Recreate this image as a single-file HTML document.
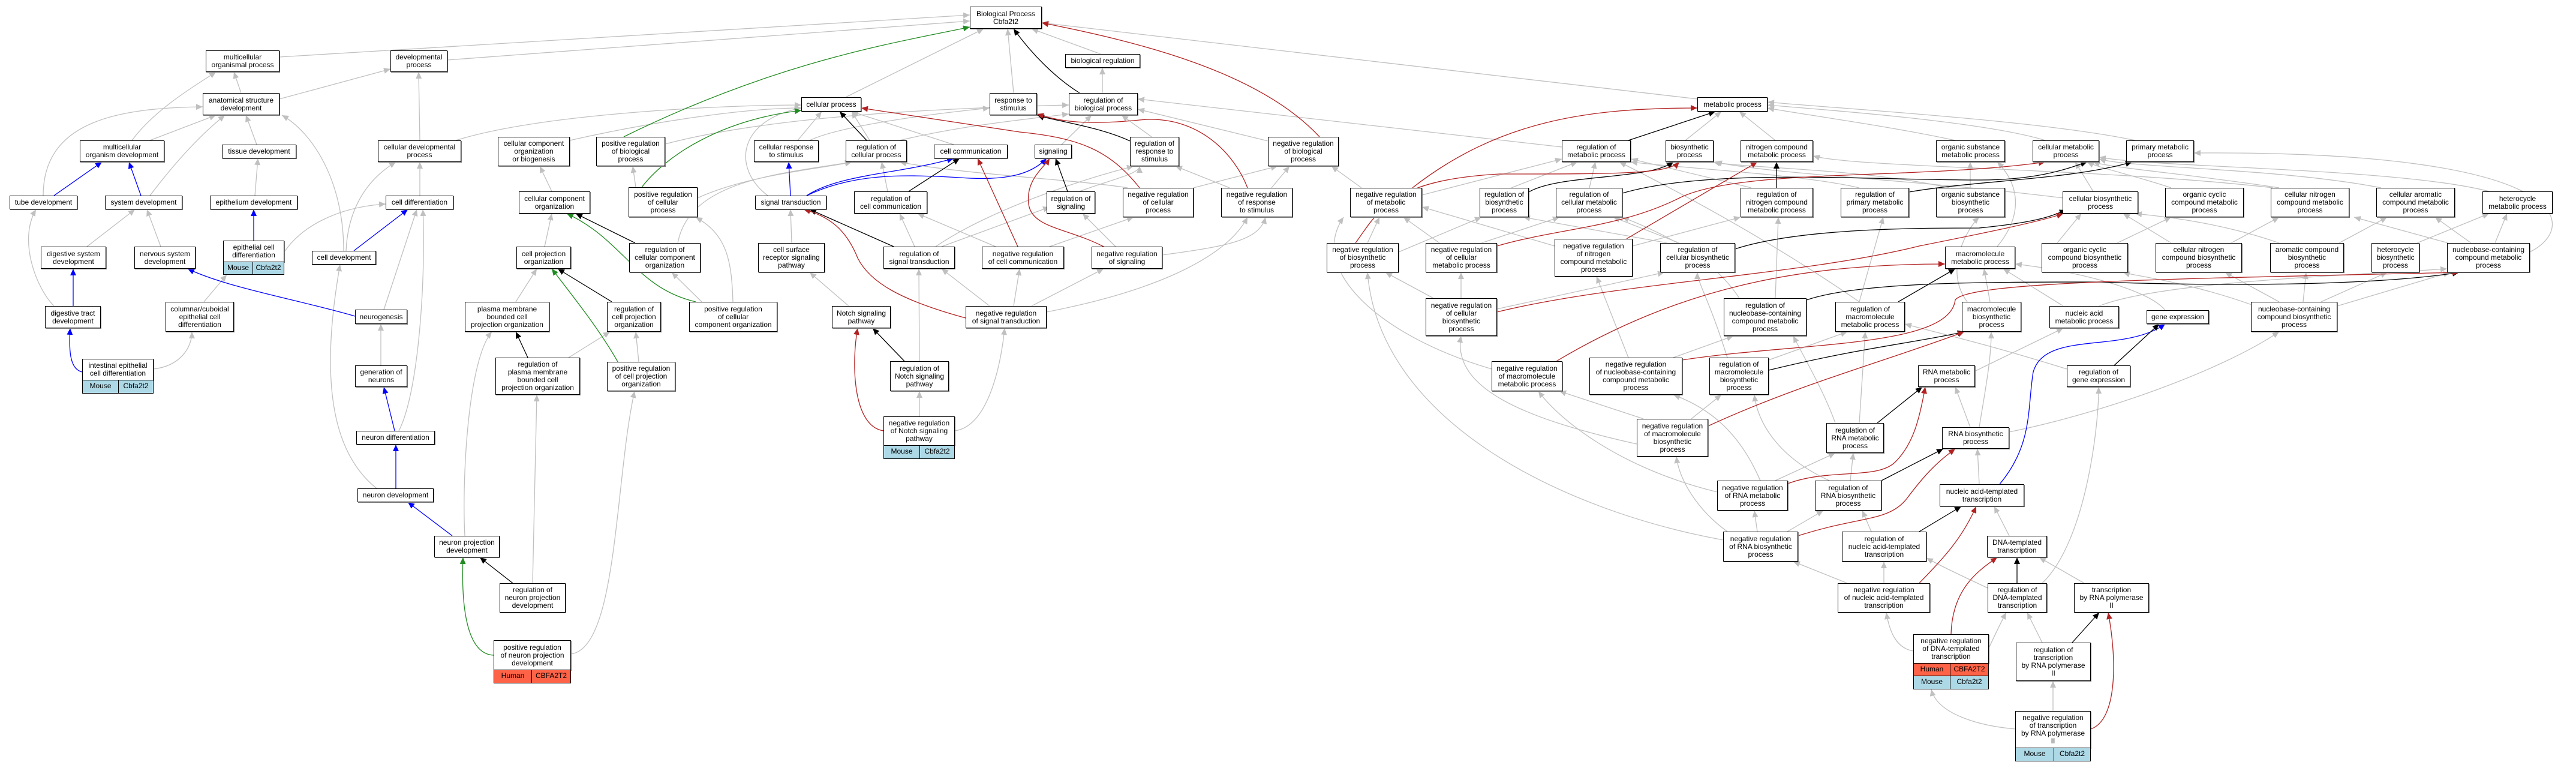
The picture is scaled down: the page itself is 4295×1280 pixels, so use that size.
<!DOCTYPE html>
<html><head><meta charset="utf-8"><style>
html,body{margin:0;padding:0;background:#fff;}
#w{position:relative;width:4295px;height:1280px;overflow:hidden;background:#fff;}
svg{position:absolute;left:0;top:0;}
.n{position:absolute;box-sizing:border-box;border:1.5px solid #000;background:#fff;display:flex;align-items:center;justify-content:center;text-align:center;font:12px/13px "Liberation Sans",Arial,sans-serif;color:#000;box-shadow:1px 1px 0 #777;}
.r{position:absolute;box-sizing:border-box;border:1.5px solid #000;border-top:none;display:flex;font:12px/19px "Liberation Sans",Arial,sans-serif;}
.r span{display:block;text-align:center;box-sizing:border-box;}
.r span:first-child{border-right:1px solid #000;}
.m{background:#add8e6;}.h{background:#ff6347;}
</style></head><body><div id="w">
<svg width="4295" height="1280" viewBox="0 0 4295 1280" fill="none" stroke-width="1.3">
<defs>
<marker id="ag" markerUnits="userSpaceOnUse" markerWidth="12" markerHeight="10" refX="11" refY="5" orient="auto"><path d="M0,0L11,5L0,10z" fill="#c0c0c0"/></marker>
<marker id="ak" markerUnits="userSpaceOnUse" markerWidth="12" markerHeight="10" refX="11" refY="5" orient="auto"><path d="M0,0L11,5L0,10z" fill="#000"/></marker>
<marker id="ar" markerUnits="userSpaceOnUse" markerWidth="12" markerHeight="10" refX="11" refY="5" orient="auto"><path d="M0,0L11,5L0,10z" fill="#b22222"/></marker>
<marker id="ab" markerUnits="userSpaceOnUse" markerWidth="12" markerHeight="10" refX="11" refY="5" orient="auto"><path d="M0,0L11,5L0,10z" fill="#0000ff"/></marker>
<marker id="an" markerUnits="userSpaceOnUse" markerWidth="12" markerHeight="10" refX="11" refY="5" orient="auto"><path d="M0,0L11,5L0,10z" fill="#228b22"/></marker>
</defs>
<g stroke="#c0c0c0" marker-end="url(#ag)">
<path d="M466 95L1617 25"/><path d="M746 100L1617 35"/><path d="M402 155L390 120"/><path d="M466 165L651 115"/>
<path d="M220 234C260 180 330 140 360 120"/><path d="M250 234L360 192"/><path d="M428 241L410 192"/>
<path d="M72 326C72 200 200 180 338 178"/><path d="M250 326C300 260 340 220 375 192"/><path d="M573 418C573 300 520 220 470 192"/>
<path d="M700 234L698 120"/><path d="M760 234C900 190 1200 175 1336 175"/><path d="M950 234C1100 200 1250 180 1336 180"/>
<path d="M700 326L700 270"/><path d="M920 319L900 277"/><path d="M425 326L430 264"/><path d="M145 411L225 349"/><path d="M268 411L245 349"/>
<path d="M90 510C60 480 30 400 60 349"/><path d="M474 420C500 380 560 345 643 340"/><path d="M340 503L378 458"/>
<path d="M577 418C580 350 610 300 660 270"/><path d="M640 516L695 349"/><path d="M665 718C700 650 710 450 705 349"/>
<path d="M628 814C560 760 530 650 567 441"/><path d="M908 411L920 356"/><path d="M860 503L895 448"/><path d="M948 596L1017 553"/>
<path d="M1065 603L1060 553"/><path d="M256 615C300 610 320 580 320 553"/><path d="M775 893C770 800 780 600 820 553"/>
<path d="M888 972L895 658"/><path d="M952 1090C1030 1080 1025 800 1058 652"/><path d="M635 609L635 540"/>
<path d="M1109 240C1300 190 1600 180 1782 175"/><path d="M1163 330C1250 290 1380 280 1420 270"/><path d="M1060 312L1055 277"/>
<path d="M1130 405C1150 300 1300 290 1420 270"/><path d="M1170 503L1120 454"/><path d="M1222 503C1220 430 1210 390 1160 362"/>
<path d="M1835 90L1720 48"/><path d="M1838 155L1838 113"/><path d="M1690 155L1680 48"/><path d="M1410 162L1640 48"/>
<path d="M1330 234L1370 186"/><path d="M1350 234C1400 210 1550 190 1650 180"/><path d="M1450 234L1420 186"/>
<path d="M1500 234C1600 210 1700 200 1782 190"/><path d="M1590 241L1420 186"/><path d="M1770 241L1820 192"/>
<path d="M1280 326C1220 280 1230 200 1336 180"/><path d="M1920 228L1870 192"/><path d="M2114 235L1897 182"/>
<path d="M1880 313C1800 300 1600 290 1500 270"/><path d="M1990 313L2130 277"/><path d="M2050 313L1960 277"/><path d="M2120 313L2150 277"/>
<path d="M1480 319L1470 270"/><path d="M1800 319C1850 300 1900 290 1900 277"/><path d="M1320 405L1318 349"/>
<path d="M1525 411L1500 356"/><path d="M1570 411L1750 345"/><path d="M1560 411C1650 350 1800 300 1890 277"/>
<path d="M1660 411L1530 356"/><path d="M1750 411L1890 362"/><path d="M1860 411L1805 356"/><path d="M1938 425C2050 410 2100 400 2110 362"/>
<path d="M1650 510L1570 448"/><path d="M1690 510L1700 448"/><path d="M1720 510L1840 448"/><path d="M1745 520C1950 480 2050 420 2080 362"/>
<path d="M1415 510L1350 454"/><path d="M1533 602L1532 448"/><path d="M1533 694L1533 652"/><path d="M1592 718C1650 710 1670 600 1675 547"/>
<path d="M2830 165L1737 38"/><path d="M2604 245L1897 165"/><path d="M2810 234L2870 186"/><path d="M2960 234L2900 186"/>
<path d="M3260 234C3150 210 3000 190 2947 180"/><path d="M3410 234C3300 200 3000 180 2947 175"/><path d="M3560 234C3400 200 3050 180 2947 170"/>
<path d="M2371 325L2604 265"/><path d="M2270 313L2220 277"/><path d="M2520 313L2630 270"/><path d="M2650 313L2660 270"/>
<path d="M2920 313L2720 265"/><path d="M3100 313C3000 290 2800 280 2719 270"/><path d="M3285 313L3285 270"/>
<path d="M3250 313C3100 280 2900 280 2857 270"/><path d="M3490 319L3460 270"/><path d="M3440 330C3200 300 2950 290 2860 270"/>
<path d="M3620 313C3550 290 3500 280 3480 270"/><path d="M3800 313C3650 290 3520 280 3490 270"/><path d="M3790 313C3500 280 3100 280 3023 260"/>
<path d="M3970 313C3800 280 3550 280 3500 265"/><path d="M4150 319C4000 280 3600 280 3500 262"/><path d="M3330 411C3380 350 3360 300 3330 270"/>
<path d="M2332 420L2470 362"/><path d="M2280 405L2300 362"/><path d="M2470 405L2600 362"/><path d="M2400 405L2340 362"/>
<path d="M2722 410L2902 362"/><path d="M2592 410L2371 345"/><path d="M2780 405L2540 362"/><path d="M2800 405L2690 362"/>
<path d="M2436 497L2436 454"/><path d="M2390 497L2310 454"/><path d="M2496 515L2775 454"/><path d="M2960 497L2965 362"/>
<path d="M2900 497C2850 420 2750 380 2705 362"/><path d="M3100 503C2950 400 2800 320 2700 270"/><path d="M3100 503L3140 362"/>
<path d="M3530 405L3620 362"/><path d="M3430 405L3470 356"/><path d="M3720 405L3800 362"/><path d="M3620 405L3540 356"/>
<path d="M3900 405L3980 362"/><path d="M3800 405C3700 370 3600 360 3560 356"/><path d="M4030 405L4150 356"/>
<path d="M4160 405L4180 356"/><path d="M4120 405L4060 362"/><path d="M4100 410L3925 362"/><path d="M4218 420C4300 380 4300 250 3658 255"/>
<path d="M3318 503L3308 448"/><path d="M3280 503C3240 450 3280 380 3300 362"/><path d="M3440 510L3340 448"/>
<path d="M3500 510C3600 470 3900 460 4080 448"/><path d="M3610 517C3580 480 3450 450 3360 440"/>
<path d="M3897 510L4085 454"/><path d="M3870 503L3980 454"/><path d="M3840 503L3845 454"/><path d="M3800 503L3710 454"/>
<path d="M3760 510C3650 470 3560 460 3540 454"/><path d="M3446 615C3300 570 3250 560 3176 540"/>
<path d="M2487 615C2300 560 2180 450 2240 362"/><path d="M2790 596L2890 560"/><path d="M2715 596L2662 461"/>
<path d="M2949 600L3080 553"/><path d="M2880 596C2850 500 2830 470 2830 454"/><path d="M3290 620L3440 547"/>
<path d="M2740 698L2600 652"/><path d="M2820 698L2870 658"/><path d="M2729 740C2550 700 2420 650 2436 560"/>
<path d="M3060 705C3040 650 3010 600 2990 560"/><path d="M3100 705L3110 553"/><path d="M2960 801L3060 755"/>
<path d="M2935 801C2900 720 2850 680 2790 658"/><path d="M2863 820C2700 780 2600 700 2565 652"/><path d="M3085 801L3090 755"/>
<path d="M3050 801C2960 760 2930 700 2925 658"/><path d="M3285 712L3260 645"/><path d="M3300 712C3310 650 3320 600 3320 553"/>
<path d="M3350 720C3500 690 3700 620 3800 553"/><path d="M2930 886L2925 851"/><path d="M2980 886L3040 851"/>
<path d="M2880 886C2830 850 2800 800 2795 761"/><path d="M2873 900C2600 850 2300 700 2280 454"/><path d="M3120 886L3105 851"/>
<path d="M3300 807L3297 748"/><path d="M3080 972L2990 936"/><path d="M3141 972L3141 936"/><path d="M3350 893L3325 844"/>
<path d="M3314 980C3250 950 3230 940 3212 930"/><path d="M3405 972C3480 900 3500 700 3499 645"/><path d="M3475 972L3400 929"/>
<path d="M3190 1085C3160 1080 3150 1050 3145 1021"/><path d="M3316 1080C3330 1050 3340 1030 3345 1021"/><path d="M3405 1071L3380 1021"/>
<path d="M3423 1185L3423 1135"/><path d="M3360 1215C3300 1210 3230 1190 3220 1149"/>
</g>
<g stroke="#0000ff" marker-end="url(#ab)">
<path d="M90 326L170 270"/><path d="M235 326L215 270"/><path d="M423 401L423 349"/><path d="M590 418L680 349"/>
<path d="M592 527C500 500 380 480 313 448"/><path d="M137 620C115 615 115 580 117 547"/><path d="M122 510L122 448"/>
<path d="M658 718L640 645"/><path d="M660 814L660 741"/><path d="M754 893L680 837"/><path d="M1318 326L1315 270"/>
<path d="M1345 326C1400 290 1500 290 1590 264"/><path d="M1345 326C1420 290 1500 290 1600 296C1680 302 1720 290 1745 264"/>
<path d="M3334 807C3390 740 3380 680 3390 620C3410 550 3540 590 3610 540"/>
</g>
<g stroke="#228b22" marker-end="url(#an)">
<path d="M1040 228C1300 100 1500 70 1617 45"/><path d="M1070 312C1110 260 1200 200 1336 184"/>
<path d="M1160 503C1060 480 1040 400 945 356"/><path d="M1030 603C1000 550 960 500 920 448"/><path d="M823 1092C770 1090 770 980 772 929"/>
</g>
<g stroke="#000" marker-end="url(#ak)">
<path d="M1800 155C1760 130 1720 90 1690 48"/><path d="M1445 234L1400 186"/><path d="M1515 319L1600 264"/><path d="M1780 319L1760 264"/>
<path d="M1884 235C1830 210 1750 200 1730 192"/><path d="M1059 405L960 356"/><path d="M1020 503L930 448"/><path d="M880 596L860 553"/>
<path d="M1508 602L1455 547"/><path d="M1490 411L1350 349"/><path d="M855 972L800 929"/><path d="M2715 234L2860 186"/>
<path d="M2549 320C2600 290 2750 300 2790 270"/><path d="M2705 322C2850 280 3100 300 3300 300C3400 300 3450 280 3480 270"/>
<path d="M2962 313L2962 270"/><path d="M3183 320C3300 300 3450 300 3555 270"/>
<path d="M2893 415C3000 380 3200 380 3300 380C3400 370 3420 360 3445 350"/>
<path d="M3012 500C3100 470 3300 470 3500 470C3800 480 4000 470 4100 454"/><path d="M3165 503L3260 448"/>
<path d="M2949 617C3100 580 3200 570 3275 553"/><path d="M3130 705L3205 645"/><path d="M3137 801L3240 748"/>
<path d="M3200 886L3270 844"/><path d="M3363 972L3363 929"/><path d="M3455 1071L3500 1021"/><path d="M3525 609L3600 540"/>
</g>
<g stroke="#b22222" marker-end="url(#ar)">
<path d="M2200 228C2100 120 1900 70 1737 38"/><path d="M1900 313C1850 250 1800 230 1700 220L1436 180"/>
<path d="M2080 313C2060 260 2000 190 1900 200C1800 210 1760 200 1729 190"/><path d="M1697 411L1630 264"/>
<path d="M1840 411C1780 380 1720 380 1715 340C1710 300 1740 280 1750 264"/>
<path d="M1610 530C1500 500 1450 470 1430 430C1410 380 1380 360 1340 349"/><path d="M1473 718C1420 710 1420 600 1430 547"/>
<path d="M2355 313C2500 200 2650 180 2830 180"/><path d="M2260 405C2300 350 2320 300 2500 290C2700 290 2780 290 2800 270"/>
<path d="M2496 410C2600 380 2700 380 2800 330C2900 280 3200 300 3410 270"/><path d="M2712 398L2930 270"/>
<path d="M2496 520C2700 470 3000 460 3200 410C3300 390 3400 370 3440 356"/>
<path d="M2805 600C3000 570 3250 580 3260 500C3280 470 3600 465 4100 454"/><path d="M2595 602C2800 480 3000 440 3243 440"/>
<path d="M2848 710C3000 640 3150 600 3275 553"/><path d="M2981 806C3050 780 3130 800 3160 770C3190 740 3200 700 3210 645"/>
<path d="M2998 893C3100 860 3150 870 3180 830C3210 790 3230 770 3260 748"/><path d="M3200 972C3240 930 3270 900 3295 844"/>
<path d="M3253 1057C3255 980 3300 950 3330 929"/><path d="M3486 1215C3530 1200 3530 1100 3515 1021"/>
</g>
</svg>

<div class="n" style="left:343px;top:84px;width:123px;height:36px">multicellular<br>organismal process</div>
<div class="n" style="left:651px;top:84px;width:95px;height:36px">developmental<br>process</div>
<div class="n" style="left:338px;top:155px;width:128px;height:37px">anatomical structure<br>development</div>
<div class="n" style="left:133px;top:234px;width:141px;height:36px">multicellular<br>organism development</div>
<div class="n" style="left:370px;top:241px;width:124px;height:23px">tissue development</div>
<div class="n" style="left:630px;top:234px;width:139px;height:36px">cellular developmental<br>process</div>
<div class="n" style="left:830px;top:228px;width:120px;height:49px">cellular component<br>organization<br>or biogenesis</div>
<div class="n" style="left:16px;top:326px;width:113px;height:23px">tube development</div>
<div class="n" style="left:175px;top:326px;width:129px;height:23px">system development</div>
<div class="n" style="left:350px;top:326px;width:146px;height:23px">epithelium development</div>
<div class="n" style="left:643px;top:326px;width:113px;height:23px">cell differentiation</div>
<div class="n" style="left:865px;top:319px;width:119px;height:37px">cellular component<br>organization</div>
<div class="n" style="left:68px;top:411px;width:109px;height:37px">digestive system<br>development</div>
<div class="n" style="left:224px;top:411px;width:102px;height:37px">nervous system<br>development</div>
<div class="n" style="left:372px;top:401px;width:102px;height:36px">epithelial cell<br>differentiation</div>
<div class="r m" style="left:372px;top:437px;width:102px;height:21px"><span style="width:49px">Mouse</span><span style="flex:1">Cbfa2t2</span></div>
<div class="n" style="left:520px;top:418px;width:107px;height:23px">cell development</div>
<div class="n" style="left:861px;top:411px;width:91px;height:37px">cell projection<br>organization</div>
<div class="n" style="left:75px;top:510px;width:93px;height:37px">digestive tract<br>development</div>
<div class="n" style="left:276px;top:503px;width:114px;height:50px">columnar/cuboidal<br>epithelial cell<br>differentiation</div>
<div class="n" style="left:592px;top:516px;width:87px;height:24px">neurogenesis</div>
<div class="n" style="left:775px;top:503px;width:141px;height:50px">plasma membrane<br>bounded cell<br>projection organization</div>
<div class="n" style="left:1012px;top:503px;width:90px;height:50px">regulation of<br>cell projection<br>organization</div>
<div class="n" style="left:137px;top:598px;width:119px;height:36px">intestinal epithelial<br>cell differentiation</div>
<div class="r m" style="left:137px;top:634px;width:119px;height:22px"><span style="width:60px">Mouse</span><span style="flex:1">Cbfa2t2</span></div>
<div class="n" style="left:592px;top:609px;width:87px;height:36px">generation of<br>neurons</div>
<div class="n" style="left:826px;top:596px;width:141px;height:62px">regulation of<br>plasma membrane<br>bounded cell<br>projection organization</div>
<div class="n" style="left:1012px;top:603px;width:114px;height:49px">positive regulation<br>of cell projection<br>organization</div>
<div class="n" style="left:994px;top:228px;width:115px;height:49px">positive regulation<br>of biological<br>process</div>
<div class="n" style="left:1048px;top:312px;width:115px;height:50px">positive regulation<br>of cellular<br>process</div>
<div class="n" style="left:594px;top:718px;width:131px;height:23px">neuron differentiation</div>
<div class="n" style="left:596px;top:814px;width:127px;height:23px">neuron development</div>
<div class="n" style="left:724px;top:893px;width:109px;height:36px">neuron projection<br>development</div>
<div class="n" style="left:833px;top:972px;width:110px;height:49px">regulation of<br>neuron projection<br>development</div>
<div class="n" style="left:823px;top:1067px;width:129px;height:50px">positive regulation<br>of neuron projection<br>development</div>
<div class="r h" style="left:823px;top:1117px;width:129px;height:22px"><span style="width:63px">Human</span><span style="flex:1">CBFA2T2</span></div>

<div class="n" style="left:1617px;top:11px;width:120px;height:37px">Biological Process<br>Cbfa2t2</div>
<div class="n" style="left:1776px;top:90px;width:125px;height:23px">biological regulation</div>
<div class="n" style="left:1336px;top:162px;width:100px;height:24px">cellular process</div>
<div class="n" style="left:1650px;top:155px;width:79px;height:37px">response to<br>stimulus</div>
<div class="n" style="left:1782px;top:155px;width:115px;height:37px">regulation of<br>biological process</div>
<div class="n" style="left:1257px;top:234px;width:108px;height:36px">cellular response<br>to stimulus</div>
<div class="n" style="left:1410px;top:234px;width:102px;height:36px">regulation of<br>cellular process</div>
<div class="n" style="left:1557px;top:241px;width:123px;height:23px">cell communication</div>
<div class="n" style="left:1725px;top:241px;width:62px;height:23px">signaling</div>
<div class="n" style="left:1884px;top:228px;width:82px;height:49px">regulation of<br>response to<br>stimulus</div>
<div class="n" style="left:2114px;top:228px;width:118px;height:49px">negative regulation<br>of biological<br>process</div>
<div class="n" style="left:1259px;top:326px;width:119px;height:23px">signal transduction</div>
<div class="n" style="left:1424px;top:319px;width:122px;height:37px">regulation of<br>cell communication</div>
<div class="n" style="left:1745px;top:319px;width:81px;height:37px">regulation of<br>signaling</div>
<div class="n" style="left:1872px;top:313px;width:118px;height:49px">negative regulation<br>of cellular<br>process</div>
<div class="n" style="left:2036px;top:313px;width:119px;height:49px">negative regulation<br>of response<br>to stimulus</div>
<div class="n" style="left:1149px;top:503px;width:147px;height:50px">positive regulation<br>of cellular<br>component organization</div>
<div class="n" style="left:1049px;top:405px;width:119px;height:49px">regulation of<br>cellular component<br>organization</div>
<div class="n" style="left:1264px;top:405px;width:111px;height:49px">cell surface<br>receptor signaling<br>pathway</div>
<div class="n" style="left:1473px;top:411px;width:119px;height:37px">regulation of<br>signal transduction</div>
<div class="n" style="left:1637px;top:411px;width:137px;height:37px">negative regulation<br>of cell communication</div>
<div class="n" style="left:1820px;top:411px;width:118px;height:37px">negative regulation<br>of signaling</div>
<div class="n" style="left:1387px;top:510px;width:98px;height:37px">Notch signaling<br>pathway</div>
<div class="n" style="left:1610px;top:510px;width:135px;height:37px">negative regulation<br>of signal transduction</div>
<div class="n" style="left:1484px;top:602px;width:98px;height:50px">regulation of<br>Notch signaling<br>pathway</div>
<div class="n" style="left:1473px;top:694px;width:119px;height:49px">negative regulation<br>of Notch signaling<br>pathway</div>
<div class="r m" style="left:1473px;top:743px;width:119px;height:22px"><span style="width:60px">Mouse</span><span style="flex:1">Cbfa2t2</span></div>

<div class="n" style="left:2830px;top:162px;width:117px;height:24px">metabolic process</div>
<div class="n" style="left:2604px;top:234px;width:115px;height:36px">regulation of<br>metabolic process</div>
<div class="n" style="left:2777px;top:234px;width:80px;height:36px">biosynthetic<br>process</div>
<div class="n" style="left:2902px;top:234px;width:121px;height:36px">nitrogen compound<br>metabolic process</div>
<div class="n" style="left:2251px;top:313px;width:120px;height:49px">negative regulation<br>of metabolic<br>process</div>
<div class="n" style="left:2467px;top:313px;width:82px;height:49px">regulation of<br>biosynthetic<br>process</div>
<div class="n" style="left:2594px;top:313px;width:111px;height:49px">regulation of<br>cellular metabolic<br>process</div>
<div class="n" style="left:2902px;top:313px;width:121px;height:49px">regulation of<br>nitrogen compound<br>metabolic process</div>
<div class="n" style="left:3069px;top:313px;width:114px;height:49px">regulation of<br>primary metabolic<br>process</div>
<div class="n" style="left:2212px;top:405px;width:120px;height:49px">negative regulation<br>of biosynthetic<br>process</div>
<div class="n" style="left:2377px;top:405px;width:119px;height:49px">negative regulation<br>of cellular<br>metabolic process</div>
<div class="n" style="left:2592px;top:398px;width:130px;height:63px">negative regulation<br>of nitrogen<br>compound metabolic<br>process</div>
<div class="n" style="left:2768px;top:405px;width:125px;height:49px">regulation of<br>cellular biosynthetic<br>process</div>
<div class="n" style="left:2377px;top:497px;width:119px;height:63px">negative regulation<br>of cellular<br>biosynthetic<br>process</div>
<div class="n" style="left:2874px;top:497px;width:138px;height:63px">regulation of<br>nucleobase-containing<br>compound metabolic<br>process</div>
<div class="n" style="left:3060px;top:503px;width:116px;height:50px">regulation of<br>macromolecule<br>metabolic process</div>
<div class="n" style="left:2487px;top:602px;width:118px;height:50px">negative regulation<br>of macromolecule<br>metabolic process</div>
<div class="n" style="left:2650px;top:596px;width:155px;height:62px">negative regulation<br>of nucleobase-containing<br>compound metabolic<br>process</div>
<div class="n" style="left:2850px;top:596px;width:99px;height:62px">regulation of<br>macromolecule<br>biosynthetic<br>process</div>
<div class="n" style="left:3198px;top:609px;width:95px;height:36px">RNA metabolic<br>process</div>

<div class="n" style="left:3228px;top:234px;width:115px;height:36px">organic substance<br>metabolic process</div>
<div class="n" style="left:3389px;top:234px;width:111px;height:36px">cellular metabolic<br>process</div>
<div class="n" style="left:3545px;top:234px;width:113px;height:36px">primary metabolic<br>process</div>
<div class="n" style="left:3228px;top:313px;width:115px;height:49px">organic substance<br>biosynthetic<br>process</div>
<div class="n" style="left:3439px;top:319px;width:126px;height:37px">cellular biosynthetic<br>process</div>
<div class="n" style="left:3610px;top:313px;width:131px;height:49px">organic cyclic<br>compound metabolic<br>process</div>
<div class="n" style="left:3786px;top:313px;width:131px;height:49px">cellular nitrogen<br>compound metabolic<br>process</div>
<div class="n" style="left:3962px;top:313px;width:131px;height:49px">cellular aromatic<br>compound metabolic<br>process</div>
<div class="n" style="left:4139px;top:319px;width:117px;height:37px">heterocycle<br>metabolic process</div>
<div class="n" style="left:3243px;top:411px;width:117px;height:37px">macromolecule<br>metabolic process</div>
<div class="n" style="left:3404px;top:405px;width:144px;height:49px">organic cyclic<br>compound biosynthetic<br>process</div>
<div class="n" style="left:3594px;top:405px;width:144px;height:49px">cellular nitrogen<br>compound biosynthetic<br>process</div>
<div class="n" style="left:3785px;top:405px;width:123px;height:49px">aromatic compound<br>biosynthetic<br>process</div>
<div class="n" style="left:3954px;top:405px;width:80px;height:49px">heterocycle<br>biosynthetic<br>process</div>
<div class="n" style="left:4080px;top:405px;width:138px;height:49px">nucleobase-containing<br>compound metabolic<br>process</div>
<div class="n" style="left:3271px;top:503px;width:99px;height:50px">macromolecule<br>biosynthetic<br>process</div>
<div class="n" style="left:3417px;top:510px;width:116px;height:37px">nucleic acid<br>metabolic process</div>
<div class="n" style="left:3579px;top:517px;width:104px;height:23px">gene expression</div>
<div class="n" style="left:3753px;top:503px;width:144px;height:50px">nucleobase-containing<br>compound biosynthetic<br>process</div>
<div class="n" style="left:3446px;top:609px;width:106px;height:36px">regulation of<br>gene expression</div>

<div class="n" style="left:2729px;top:698px;width:119px;height:63px">negative regulation<br>of macromolecule<br>biosynthetic<br>process</div>
<div class="n" style="left:3045px;top:705px;width:96px;height:50px">regulation of<br>RNA metabolic<br>process</div>
<div class="n" style="left:2863px;top:801px;width:118px;height:50px">negative regulation<br>of RNA metabolic<br>process</div>
<div class="n" style="left:3026px;top:801px;width:111px;height:50px">regulation of<br>RNA biosynthetic<br>process</div>
<div class="n" style="left:2873px;top:886px;width:125px;height:50px">negative regulation<br>of RNA biosynthetic<br>process</div>
<div class="n" style="left:3071px;top:886px;width:141px;height:50px">regulation of<br>nucleic acid-templated<br>transcription</div>
<div class="n" style="left:3064px;top:972px;width:154px;height:49px">negative regulation<br>of nucleic acid-templated<br>transcription</div>
<div class="n" style="left:3238px;top:712px;width:112px;height:36px">RNA biosynthetic<br>process</div>
<div class="n" style="left:3234px;top:807px;width:141px;height:37px">nucleic acid-templated<br>transcription</div>
<div class="n" style="left:3313px;top:893px;width:100px;height:36px">DNA-templated<br>transcription</div>
<div class="n" style="left:3314px;top:972px;width:99px;height:49px">regulation of<br>DNA-templated<br>transcription</div>
<div class="n" style="left:3458px;top:972px;width:125px;height:49px">transcription<br>by RNA polymerase<br>II</div>
<div class="n" style="left:3190px;top:1057px;width:126px;height:49px">negative regulation<br>of DNA-templated<br>transcription</div>
<div class="r h" style="left:3190px;top:1106px;width:126px;height:21px"><span style="width:61px">Human</span><span style="flex:1">CBFA2T2</span></div>
<div class="r m" style="left:3190px;top:1127px;width:126px;height:22px"><span style="width:61px">Mouse</span><span style="flex:1">Cbfa2t2</span></div>
<div class="n" style="left:3361px;top:1071px;width:125px;height:64px">regulation of<br>transcription<br>by RNA polymerase<br>II</div>
<div class="n" style="left:3360px;top:1185px;width:126px;height:62px">negative regulation<br>of transcription<br>by RNA polymerase<br>II</div>
<div class="r m" style="left:3360px;top:1247px;width:126px;height:22px"><span style="width:64px">Mouse</span><span style="flex:1">Cbfa2t2</span></div>
</div></body></html>
